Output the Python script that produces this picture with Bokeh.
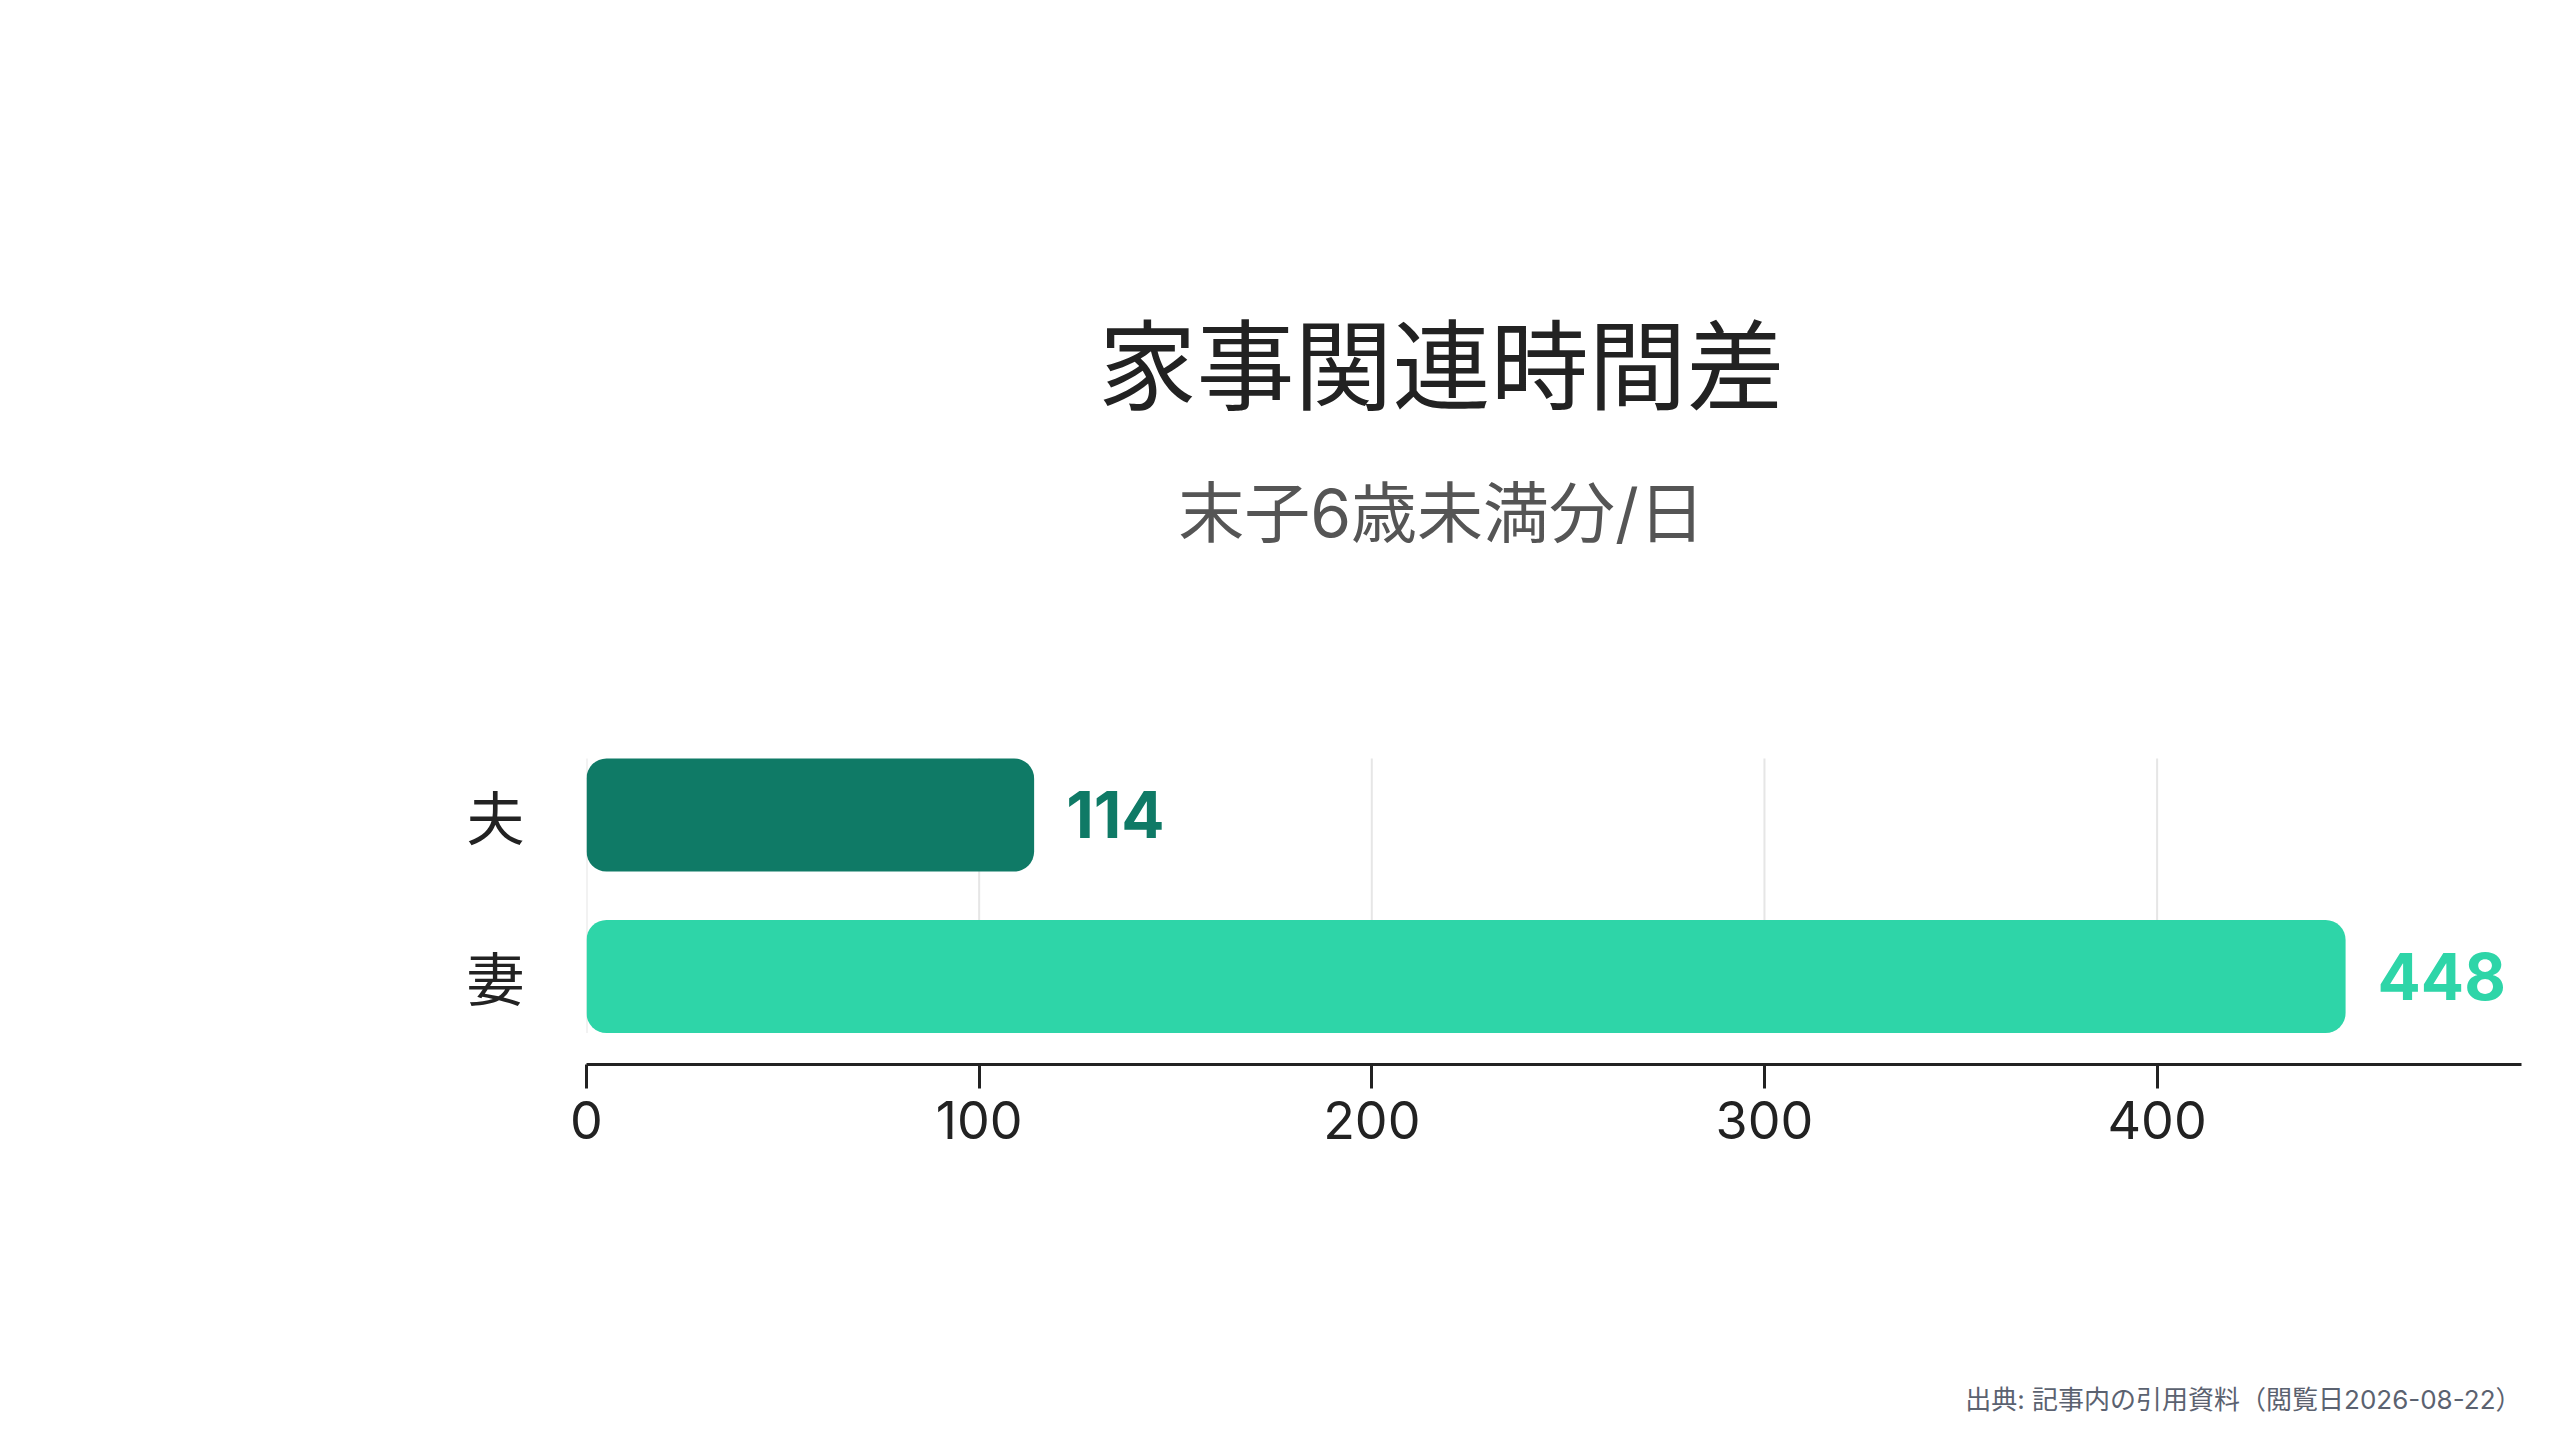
from bokeh.plotting import figure
from bokeh.layouts import column
from bokeh.models import ColumnDataSource, Range1d, FixedTicker
from bokeh.core.properties import value
from bokeh.embed import file_html
from bokeh.resources import INLINE

# data
categories = ["夫", "妻"]
minutes = [114, 448]
bar_colors = ["#0f7a66", "#2ed5a8"]
x_ticks = [0, 100, 200, 300, 400]
title_text = "家事関連時間差"
subtitle_text = "末子6歳未満分/日"
source_text = "出典: 記事内の引用資料（閲覧日2026-08-22）"

W = 2544
H_CHART, H_NOTE = 1180, 244
LEFT, RIGHT, BOTTOM = 586, 23, 116
PX_PER_CAT = 161.5          # vertical pixels per category slot
BAR_H = 0.7
CJK = "'Noto Sans CJK JP', sans-serif"
LATIN = "Inter, 'Noto Sans CJK JP', sans-serif"

# top category drawn highest
pos = [len(categories) - 1 - i for i in range(len(categories))]
src = ColumnDataSource(dict(
    cat=categories, pos=pos, val=minutes, color=bar_colors,
    label=[str(v) for v in minutes],
))

x_end = max(minutes) * 1.1
y_start = min(pos) - 0.545
y_end = y_start + (H_CHART - BOTTOM) / PX_PER_CAT   # frame reaches the top of the canvas
px_per_x = (W - LEFT - RIGHT) / x_end

p = figure(width=W, height=H_CHART, output_backend="svg", toolbar_location=None,
           x_range=Range1d(0, x_end), y_range=Range1d(y_start, y_end),
           min_border_left=LEFT, min_border_right=RIGHT,
           min_border_top=0, min_border_bottom=BOTTOM)
p.title.visible = False
p.outline_line_color = None
p.background_fill_color = "white"
p.border_fill_color = "white"
p.xgrid.visible = False
p.ygrid.visible = False

# vertical grid only across the bars
p.segment(x0=x_ticks, x1=x_ticks,
          y0=[min(pos) - BAR_H / 2] * len(x_ticks),
          y1=[max(pos) + BAR_H / 2] * len(x_ticks),
          line_color="#e6e6e6", line_width=2)

p.hbar(y="pos", left=0, right="val", height=BAR_H, source=src,
       fill_color="color", line_color=None, border_radius=20)

p.text(x="val", y="pos", text="label", source=src, x_offset=32,
       text_baseline="middle", text_align="left", text_color="color",
       text_font=value(LATIN), text_font_style="bold", text_font_size="64px")

# headings, placed near the top of the frame
head_x = (1441 - LEFT) / px_per_x
p.text(x=[head_x], y=[y_end], text=[title_text], y_offset=358,
       text_align="center", text_baseline="middle", text_color="#222222",
       text_font=value(CJK), text_font_size="98px")
p.text(x=[head_x], y=[y_end], text=[subtitle_text], y_offset=512,
       text_align="center", text_baseline="middle", text_color="#555555",
       text_font=value(LATIN), text_font_size="66px")

xa = p.xaxis[0]
xa.ticker = FixedTicker(ticks=x_ticks)
xa.axis_line_color = "#222222"
xa.axis_line_width = 3
xa.major_tick_line_color = "#222222"
xa.major_tick_line_width = 3
xa.major_tick_out = 24
xa.major_tick_in = 0
xa.minor_tick_line_color = None
xa.major_label_text_font = LATIN
xa.major_label_text_font_size = "52px"
xa.major_label_text_color = "#222222"
xa.major_label_standoff = 12

ya = p.yaxis[0]
ya.ticker = FixedTicker(ticks=pos)
ya.major_label_overrides = {pp: c for pp, c in zip(pos, categories)}
ya.axis_line_color = None
ya.major_tick_line_color = None
ya.minor_tick_line_color = None
ya.major_label_text_font = CJK
ya.major_label_text_font_size = "58px"
ya.major_label_text_color = "#222222"
ya.major_label_standoff = 56

# source note strip under the chart
note = figure(width=W, height=H_NOTE, output_backend="svg", toolbar_location=None,
              x_range=Range1d(0, 1), y_range=Range1d(0, 1), min_border=0)
note.title.visible = False
note.axis.visible = False
note.grid.visible = False
note.outline_line_color = None
note.text(x=[1], y=[0], text=[source_text], x_offset=0, y_offset=-25,
          text_align="right", text_baseline="middle", text_color="#5b6270",
          text_font=value(LATIN), text_font_size="26px")

layout = column(p, note, spacing=0)
open("out.html", "w").write(file_html(layout, INLINE))
